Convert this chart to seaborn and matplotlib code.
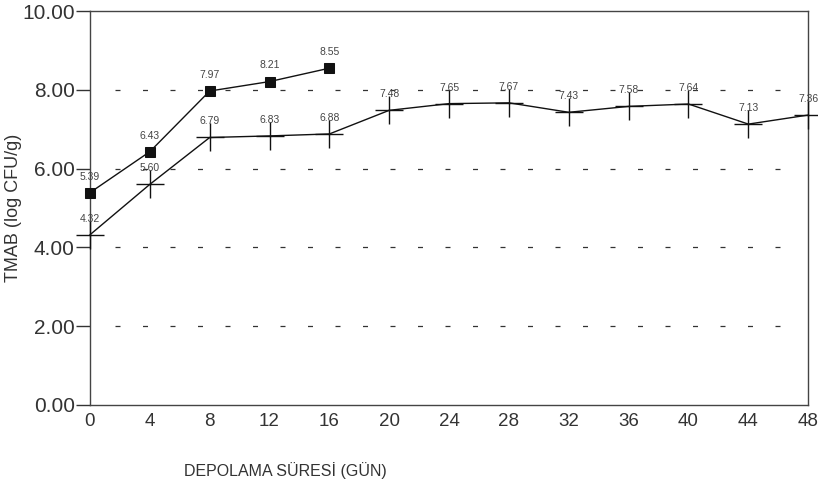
import matplotlib
matplotlib.use('Agg')
import matplotlib.pyplot as plt
import seaborn as sns
import pandas as pd

# veriler
gun_kare = [0, 4, 8, 12, 16]
tmab_kare = [5.39, 6.43, 7.97, 8.21, 8.55]

gun_arti = [0, 4, 8, 12, 16, 20, 24, 28, 32, 36, 40, 44, 48]
tmab_arti = [4.32, 5.60, 6.79, 6.83, 6.88, 7.48, 7.65, 7.67, 7.43, 7.58, 7.64, 7.13, 7.36]

y_ticks = [0, 2, 4, 6, 8, 10]

sns.set_style('white')
plt.rcParams['font.family'] = ['Liberation Sans', 'DejaVu Sans']

fig = plt.figure(figsize=(8.18, 4.82), dpi=100)
ax = fig.add_axes([0.110, 0.160, 0.878, 0.817])

# kesikli yatay çizgiler
for yv in y_ticks[1:-1]:
    ax.plot([1.7, 46.5], [yv, yv], color='#333333', lw=0.9,
            linestyle=(0, (4, 18)), zorder=1)

df1 = pd.DataFrame({'gun': gun_kare, 'tmab': tmab_kare})
df2 = pd.DataFrame({'gun': gun_arti, 'tmab': tmab_arti})

sns.lineplot(data=df1, x='gun', y='tmab', ax=ax, color='#111111', lw=1,
             marker='s', markersize=7, markeredgecolor='#111111', zorder=3,
             clip_on=False)
sns.lineplot(data=df2, x='gun', y='tmab', ax=ax, color='#111111', lw=1,
             marker='+', markersize=20, markeredgewidth=1,
             markeredgecolor='#111111', zorder=3, clip_on=False)

for x, y in zip(gun_kare, tmab_kare):
    ax.annotate(f'{y:.2f}', (x, y), xytext=(0, 8), textcoords='offset points',
                ha='center', va='bottom', fontsize=7.5, color='#444444')
for x, y in zip(gun_arti, tmab_arti):
    ax.annotate(f'{y:.2f}', (x, y), xytext=(0, 8), textcoords='offset points',
                ha='center', va='bottom', fontsize=7.5, color='#444444')

ax.set_xlim(0, 48)
ax.set_ylim(0, 10)
ax.set_xticks(gun_arti)
ax.set_xticklabels([str(g) for g in gun_arti], fontsize=13.5, color='#333333')
ax.set_yticks(y_ticks)
ax.set_yticklabels([f'{v:.2f}' for v in y_ticks], fontsize=15, color='#333333')
ax.tick_params(axis='y', length=10, width=1, color='#333333', direction='out', left=True, pad=1)
ax.tick_params(axis='x', length=0, pad=6)

for s in ax.spines.values():
    s.set_color('#444444')
    s.set_linewidth(1)

ax.set_ylabel('TMAB (log CFU/g)', fontsize=13, color='#333333')
ax.set_xlabel('DEPOLAMA SÜRESİ (GÜN)', fontsize=11.5, color='#333333')
ax.xaxis.set_label_coords(0.272, -0.145)
ax.yaxis.set_label_coords(-0.095, 0.5)

plt.savefig('out.png', dpi=100)
